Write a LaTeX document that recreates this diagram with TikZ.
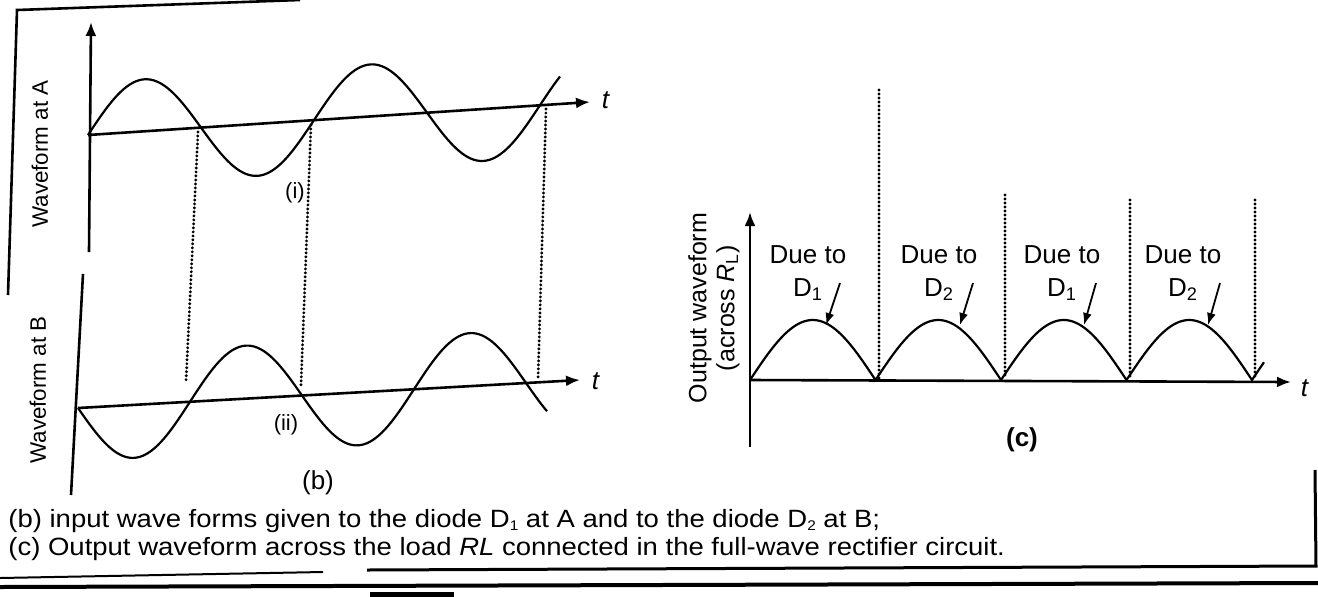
\documentclass[tikz,border=0pt]{standalone}
\usepackage{fontspec}
\setmainfont{Liberation Sans}
\newfontfamily\capfont[FakeStretch=1.1]{Liberation Sans}
\newcommand{\capsub}[1]{\raisebox{-0.15em}{\fontsize{7}{7}\selectfont #1}}
\usetikzlibrary{arrows.meta}

\begin{document}
\begin{tikzpicture}[x=0.5pt, y=-0.5pt,
  axis/.style={line width=1.3pt, -{Latex[length=7pt,width=5.5pt]}},
  frame/.style={line width=1.3pt},
  wave/.style={line width=1.1pt},
  guide/.style={line width=1.6pt, line cap=round, dash pattern=on 0pt off 2pt},
  ptr/.style={line width=0.9pt, -{Latex[length=6pt,width=4.5pt]}},
  lbl/.style={font=\fontsize{13}{16.5}\selectfont, inner sep=1pt},
  ylbl/.style={font=\fontsize{12}{14}\selectfont, rotate=90, align=center, inner sep=1pt},
  captxt/.style={font=\capfont\fontsize{12.5}{15}\selectfont, anchor=base west, inner sep=0pt}]

  \fill[white] (0,0) rectangle (1318,596);
  \useasboundingbox (0,0) rectangle (1318,596);

  % (b) input waveforms
  \draw[frame] (300,0) -- (17,10) -- (8,295);
  \coordinate (yA0) at (89,252);
  \coordinate (yA1) at (91,22);
  \coordinate (oA) at (88,135);
  \coordinate (tA) at (590,102);
  \coordinate (yB0) at (71,495);
  \coordinate (yB1) at (83,274);
  \coordinate (oB) at (78,408);
  \coordinate (tB) at (580,380);
  \draw[axis] (yA0) -- (yA1);
  \draw[axis] (oA) -- (tA);
  \draw[frame] (yB0) -- (yB1);
  \draw[axis] (oB) -- (tB);
  \draw[wave] plot[domain=88:560, samples=160] (\x, {135-0.0659*(\x-88)-52*sin(1.5929*(\x-88))});
  \draw[wave] plot[domain=78:547, samples=160] (\x, {408-0.0559*(\x-78)+53*sin(1.6071*(\x-78))});
  \foreach \xa/\ya/\xb/\yb in {198/132/186/382, 311/125/301/385, 546/109/538/380}
    \draw[guide] (\xa,\ya) -- (\xb,\yb);

  \node[lbl] (tlA) at (606,100) {\textit{t}};
  \node[lbl] (tlB) at (596,381) {\textit{t}};
  \node[ylbl, font=\fontsize{11.2}{13}\selectfont] (wA) at (40,154) {Waveform at A};
  \node[ylbl, font=\fontsize{11.2}{13}\selectfont] (wB) at (38,390) {Waveform at B};
  \node[lbl, font=\fontsize{11}{13}\selectfont] (ni) at (295,193) {(i)};
  \node[lbl, font=\fontsize{11}{13}\selectfont] (nii) at (286,425) {(ii)};
  \node[lbl] (nb) at (318,483) {(b)};

  % (c) output waveform
  \coordinate (oC) at (750,380);
  \coordinate (tC) at (1291,382);
  \coordinate (yC0) at (750,447);
  \coordinate (yC1) at (750,212);
  \draw[axis] (yC0) -- (yC1);
  \draw[axis] (oC) -- (tC);
  \draw[wave] plot[domain=750:1264, samples=300] (\x, {380-60*abs(sin(1.4343*(\x-750)))});
  \foreach \xx/\yy in {879/90, 1005/195, 1130/200, 1255/200}
    \draw[guide] (\xx,\yy) -- (\xx,378);

  \node[lbl] (tlC) at (1305,388) {\textit{t}};
  \node[ylbl, font=\fontsize{12.5}{14}\selectfont] (out) at (714,308) {Output waveform\\(across \textit{R}\textsubscript{L})};
  \node[lbl, align=center] (due1) at (808,273) {Due to\\D\textsubscript{1}};
  \node[lbl, align=center] (due2) at (939,273) {Due to\\D\textsubscript{2}};
  \node[lbl, align=center] (due3) at (1062,273) {Due to\\D\textsubscript{1}};
  \node[lbl, align=center] (due4) at (1183,273) {Due to\\D\textsubscript{2}};
  \foreach \i/\xs/\xe in {1/840/826, 2/973/960, 3/1096/1084, 4/1220/1208} {
    \coordinate (s\i) at (\xs,283);
    \coordinate (e\i) at (\xe,325);
    \draw[ptr] (s\i) -- (e\i);
  }
  \node[lbl, font=\bfseries\fontsize{13}{16}\selectfont] (nc) at (1022,440) {(c)};

  % caption
  \node[captxt] (capb) at (8,527) {(b) input wave forms given to the diode D\capsub{1} at A and to the diode D\capsub{2} at B;};
  \node[captxt] (capc) at (8,555) {(c) Output waveform across the load \textit{RL} connected in the full-wave rectifier circuit.};
  \draw[line width=1pt] (0,578) -- (323,572);
  \draw[line width=1.5pt] (367,570) -- (1316,566) -- (1315,470);
  \draw[line width=2pt] (0,587) -- (1318,583);
  \draw[line width=2.5pt] (370,594) -- (454,594);
\end{tikzpicture}
\end{document}
